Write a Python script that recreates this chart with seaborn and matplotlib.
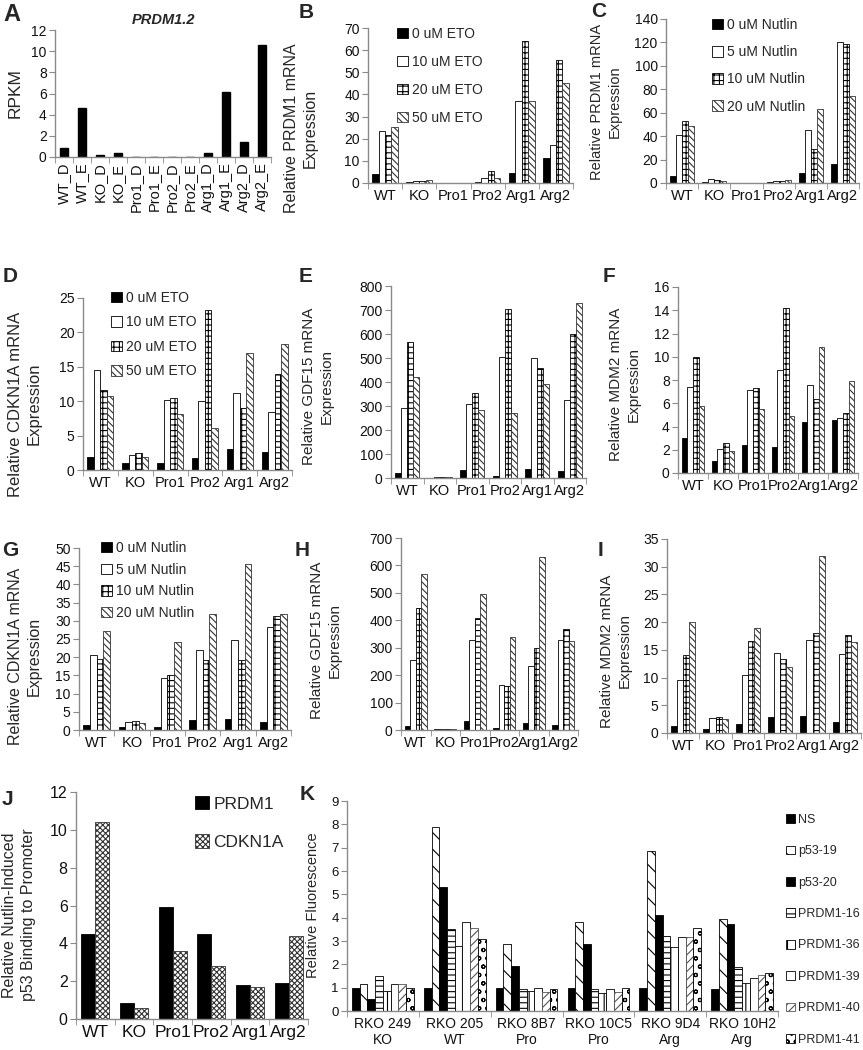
import numpy as np
import pandas as pd
import matplotlib
matplotlib.use('Agg')
import matplotlib.pyplot as plt
from matplotlib.patches import Patch
import seaborn as sns

W, H = 863, 1050

# ---------------- data ----------------
lines = ['WT', 'KO', 'Pro1', 'Pro2', 'Arg1', 'Arg2']
eto_doses = ['0 uM ETO', '10 uM ETO', '20 uM ETO', '50 uM ETO']
nutlin_doses = ['0 uM Nutlin', '5 uM Nutlin', '10 uM Nutlin', '20 uM Nutlin']

rpkm_samples = ['WT_D', 'WT_E', 'KO_D', 'KO_E', 'Pro1_D', 'Pro1_E',
                'Pro2_D', 'Pro2_E', 'Arg1_D', 'Arg1_E', 'Arg2_D', 'Arg2_E']
rpkm_values = [0.85, 4.6, 0.2, 0.35, 0, 0, 0, 0, 0.35, 6.15, 1.45, 10.55]

# rows follow `lines`, columns follow the dose lists
prdm1_eto = [[4.2, 23.3, 21.7, 25.2], [0.6, 1.1, 1.1, 1.3], [0.1, 0.1, 0.1, 0.1],
             [0.5, 2.4, 5.3, 2.4], [4.3, 37, 64, 37], [11.2, 17, 55.5, 45]]
prdm1_nutlin = [[6, 41, 53, 49], [0.8, 3, 2.5, 1.5], [0.2, 0.2, 0.2, 0.3],
                [0.5, 2, 2, 2.5], [8.5, 45, 29, 63], [16, 120, 119, 74]]
cdkn1a_eto = [[1.9, 14.5, 11.7, 10.7], [1.0, 2.2, 2.5, 1.9], [1.0, 10.2, 10.4, 8.2],
              [1.8, 10.0, 23.3, 6.1], [3.0, 11.2, 9.0, 17.0], [2.6, 8.4, 14.0, 18.3]]
gdf15_eto = [[20, 290, 565, 420], [1, 6, 5, 3], [33, 307, 355, 283],
             [10, 505, 705, 270], [38, 500, 460, 392], [28, 325, 598, 730]]
mdm2_eto = [[3.0, 7.4, 10.0, 5.8], [1.0, 2.1, 2.6, 1.9], [2.4, 7.1, 7.3, 5.5],
            [2.2, 8.9, 14.2, 4.9], [4.4, 7.6, 6.4, 10.8], [4.6, 4.7, 5.2, 7.9]]
cdkn1a_nutlin = [[1.4, 20.7, 19.5, 27.2], [0.8, 2.3, 2.4, 2.0], [0.9, 14.4, 15.1, 24.2],
                 [2.7, 22.0, 19.2, 32.0], [2.9, 24.7, 19.3, 45.5], [2.3, 28.3, 31.3, 32.0]]
gdf15_nutlin = [[15, 255, 445, 570], [2, 4, 4, 5], [33, 327, 410, 495],
                [8, 163, 160, 340], [27, 232, 300, 630], [20, 328, 368, 325]]
mdm2_nutlin = [[1.3, 9.6, 14.1, 20.0], [0.8, 2.7, 2.9, 2.5], [1.6, 10.4, 16.6, 19.0],
               [2.8, 14.4, 13.4, 11.9], [3.0, 16.7, 18.0, 32.0], [1.9, 14.2, 17.6, 16.4]]

chip_targets = ['PRDM1', 'CDKN1A']
chip_binding = [[4.5, 10.4], [0.85, 0.6], [5.9, 3.6], [4.5, 2.8], [1.8, 1.7], [1.9, 4.4]]

rko_clones = ['RKO 249\nKO', 'RKO 205\nWT', 'RKO 8B7\nPro', 'RKO 10C5\nPro',
              'RKO 9D4\nArg', 'RKO 10H2\nArg']
probes = ['NS', 'p53-19', 'p53-20', 'PRDM1-16', 'PRDM1-36', 'PRDM1-39',
          'PRDM1-40', 'PRDM1-41']
fluorescence = [[0.97, 1.16, 0.51, 1.51, 0.86, 1.16, 1.14, 1.0],
                [0.97, 7.9, 5.33, 3.52, 2.79, 3.83, 3.55, 3.09],
                [0.97, 2.86, 1.93, 0.94, 0.86, 1.0, 0.83, 0.94],
                [0.97, 3.83, 2.86, 0.94, 0.77, 0.94, 0.83, 1.0],
                [1.0, 6.87, 4.1, 3.23, 2.73, 3.19, 3.19, 3.55],
                [0.95, 3.95, 3.75, 1.87, 1.19, 1.43, 1.55, 1.62]]

# ---------------- styles ----------------
dose_styles = [dict(fc='black', hatch='', ec='black'),
               dict(fc='white', hatch='', ec='black'),
               dict(fc='white', hatch='+++', ec='black'),
               dict(fc='white', hatch='\\\\\\\\\\', ec='#333333')]
chip_styles = [dict(fc='black', hatch='', ec='black'),
               dict(fc='white', hatch='xxxxxx', ec='#333333')]
probe_styles = [dict(fc='black', hatch='', ec='black'),
                dict(fc='white', hatch='\\\\', ec='black'),
                dict(fc='black', hatch='', ec='black'),
                dict(fc='white', hatch='---', ec='black'),
                dict(fc='white', hatch='||', ec='black'),
                dict(fc='white', hatch='', ec='black'),
                dict(fc='white', hatch='////', ec='#555555'),
                dict(fc='white', hatch='oo', ec='black')]

sns.set_style('ticks')
plt.rcParams['font.family'] = ['Liberation Sans', 'DejaVu Sans']
plt.rcParams['hatch.linewidth'] = 0.8

fig = plt.figure(figsize=(W / 100, H / 100), dpi=100)


def make_axes(left, top, right, bottom):
    return fig.add_axes([left / W, 1 - bottom / H, (right - left) / W, (bottom - top) / H])


def style_axes(ax, n, ymax, ystep, ylabel, box, label_xy, lab_size,
               tick_size=10, xtick_size=10.5):
    left, top, right, bottom = box
    ax.set_xlim(-0.5, n - 0.5)
    ax.set_ylim(0, ymax)
    ax.set_yticks(np.arange(0, ymax + ystep / 2, ystep))
    ax.set_xticks(np.arange(n + 1) - 0.5, minor=True)
    for s in ['top', 'right']:
        ax.spines[s].set_visible(False)
    for s in ['left', 'bottom']:
        ax.spines[s].set_color('#8a8a8a')
        ax.spines[s].set_linewidth(1.0)
    ax.tick_params(axis='x', which='major', length=0, labelsize=xtick_size, pad=4, colors='#111111')
    ax.tick_params(axis='x', which='minor', length=4, color='#8a8a8a')
    ax.tick_params(axis='y', length=4, labelsize=tick_size, pad=2, colors='#8a8a8a',
                   labelcolor='#111111')
    ax.set_xlabel('')
    ax.set_ylabel(ylabel, fontsize=lab_size, va='center', ha='center', linespacing=1.3)
    lx, ly = label_xy
    ax.yaxis.set_label_coords((lx - left) / (right - left), (bottom - ly) / (bottom - top))


def grouped_bars(ax, values, groups, series, styles, width):
    df = pd.DataFrame([(g, s, v) for g, row in zip(groups, values) for s, v in zip(series, row)],
                      columns=['group', 'series', 'value'])
    sns.barplot(data=df, x='group', y='value', hue='series', order=groups, hue_order=series,
                palette=[st['fc'] for st in styles], saturation=1, width=width,
                edgecolor='black', linewidth=0.6, errorbar=None, legend=False, ax=ax)
    for cont, st in zip(ax.containers, styles):
        for bar in cont:
            bar.set_hatch(st['hatch'])
            bar.set_edgecolor(st['ec'])


def add_legend(ax, series, styles, x, y, size, spacing, hl=0.8):
    handles = [Patch(facecolor=st['fc'], edgecolor=st['ec'], hatch=st['hatch'], linewidth=0.6)
               for st in styles]
    ax.legend(handles, series, loc='upper left', bbox_to_anchor=(x / W, 1 - y / H),
              bbox_transform=fig.transFigure, frameon=False, fontsize=size,
              handlelength=hl, handleheight=hl, handletextpad=0.25,
              labelspacing=spacing, borderpad=0, borderaxespad=0)


def panel_letter(text, x, y, size=15):
    fig.text(x / W, 1 - y / H, text, fontsize=size, fontweight='bold', va='top', ha='left')


# ---------------- A ----------------
box = (55, 30, 271, 157)
axA = make_axes(*box)
dfA = pd.DataFrame({'sample': rpkm_samples, 'rpkm': rpkm_values})
sns.barplot(data=dfA, x='sample', y='rpkm', color='black', saturation=1, width=0.45,
            edgecolor='black', errorbar=None, ax=axA)
style_axes(axA, len(rpkm_samples), 12, 2, 'RPKM', box, (15, 93), 12.5)
axA.tick_params(axis='x', which='major', rotation=90, labelsize=10.5)
axA.set_title('PRDM1.2', fontsize=10.5, fontweight='bold', fontstyle='italic', pad=4)
panel_letter('A', 3, 3, 17)

# ---------------- B ----------------
box = (368, 28, 573, 183)
axB = make_axes(*box)
grouped_bars(axB, prdm1_eto, lines, eto_doses, dose_styles, 0.75)
style_axes(axB, 6, 70, 10, 'Relative PRDM1 mRNA\nExpression', box, (301, 128), 11.5)
add_legend(axB, eto_doses, dose_styles, 397, 27, 10, 1.0)
panel_letter('B', 299, 3)

# ---------------- C ----------------
box = (666, 19, 859, 183)
axC = make_axes(*box)
grouped_bars(axC, prdm1_nutlin, lines, nutlin_doses, dose_styles, 0.75)
style_axes(axC, 6, 140, 20, 'Relative PRDM1 mRNA\nExpression', box, (606, 102), 10.5)
add_legend(axC, nutlin_doses, dose_styles, 712, 18, 10, 0.95)
panel_letter('C', 591, 2)

# ---------------- D ----------------
box = (83, 298, 292, 470)
axD = make_axes(*box)
grouped_bars(axD, cdkn1a_eto, lines, eto_doses, dose_styles, 0.75)
style_axes(axD, 6, 25, 5, 'Relative CDKN1A mRNA\nExpression', box, (25, 404), 12)
add_legend(axD, eto_doses, dose_styles, 111, 291, 10, 0.75)
panel_letter('D', 3, 267)

# ---------------- E ----------------
box = (391, 286, 586, 478)
axE = make_axes(*box)
grouped_bars(axE, gdf15_eto, lines, eto_doses, dose_styles, 0.75)
style_axes(axE, 6, 800, 100, 'Relative GDF15 mRNA\nExpression', box, (318, 386), 11)
panel_letter('E', 299, 267)

# ---------------- F ----------------
box = (678, 287, 858, 473)
axF = make_axes(*box)
grouped_bars(axF, mdm2_eto, lines, eto_doses, dose_styles, 0.75)
style_axes(axF, 6, 16, 2, 'Relative MDM2 mRNA\nExpression', box, (625, 384), 11)
panel_letter('F', 603, 267)

# ---------------- G ----------------
box = (79, 548, 291, 730)
axG = make_axes(*box)
grouped_bars(axG, cdkn1a_nutlin, lines, nutlin_doses, dose_styles, 0.75)
style_axes(axG, 6, 50, 5, 'Relative CDKN1A mRNA\nExpression', box, (25, 656), 11.5)
add_legend(axG, nutlin_doses, dose_styles, 101, 541, 10, 0.55)
panel_letter('G', 2, 541)

# ---------------- H ----------------
box = (401, 538, 578, 730)
axH = make_axes(*box)
grouped_bars(axH, gdf15_nutlin, lines, nutlin_doses, dose_styles, 0.75)
style_axes(axH, 6, 700, 100, 'Relative GDF15 mRNA\nExpression', box, (326, 640), 11)
panel_letter('H', 295, 541)

# ---------------- I ----------------
box = (667, 539, 861, 733)
axI = make_axes(*box)
grouped_bars(axI, mdm2_nutlin, lines, nutlin_doses, dose_styles, 0.75)
style_axes(axI, 6, 35, 5, 'Relative MDM2 mRNA\nExpression', box, (616, 651), 11)
panel_letter('I', 598, 541)

# ---------------- J ----------------
box = (76, 792, 308, 1019)
axJ = make_axes(*box)
grouped_bars(axJ, chip_binding, lines, chip_targets, chip_styles, 0.72)
style_axes(axJ, 6, 12, 2, 'Relative Nutlin-Induced\np53 Binding to Promoter', box, (19, 915),
           11.5, tick_size=11.5, xtick_size=12.5)
add_legend(axJ, chip_targets, chip_styles, 195, 796, 12.5, 1.3)
panel_letter('J', 2, 790)

# ---------------- K ----------------
box = (347, 801, 778, 1011)
axK = make_axes(*box)
grouped_bars(axK, fluorescence, rko_clones, probes, probe_styles, 0.86)
style_axes(axK, 6, 9, 1, 'Relative Fluorescence', box, (313, 905), 10.5,
           tick_size=9.5, xtick_size=10)
add_legend(axK, probes, probe_styles, 786, 814, 9, 1.55, hl=0.7)
panel_letter('K', 300, 785)

fig.savefig('out.png', dpi=100)
